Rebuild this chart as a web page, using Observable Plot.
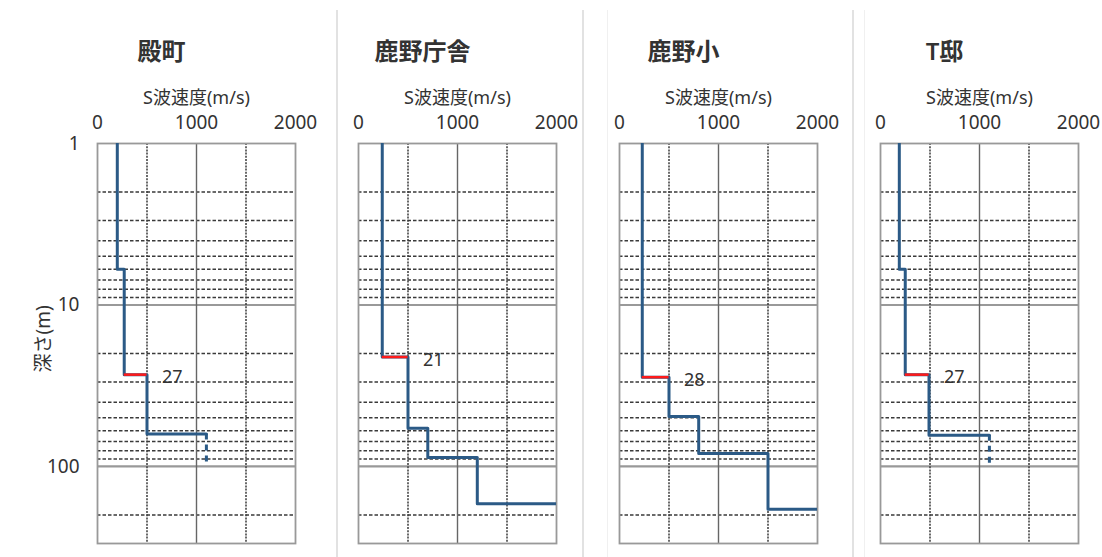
<!DOCTYPE html>
<html>
<head>
<meta charset="utf-8">
<script src="https://cdn.jsdelivr.net/npm/d3@7"></script>
<script src="https://cdn.jsdelivr.net/npm/@observablehq/plot@0.6"></script>
<style>
  body { margin: 0; background: #fff; }
  #wrap { position: relative; width: 1102px; height: 557px; overflow: hidden; }
  #wrap svg { position: absolute; left: 0; top: 0; }
  .sep { position: absolute; top: 10px; bottom: 0; width: 0; border-left: 2px solid #e2e2e2; }
  .sep.faint { border-left: 1px solid #f0f0f0; }
</style>
</head>
<body>
<div id="wrap">
  <div class="sep" style="left:336px"></div>
  <div class="sep" style="left:582px"></div>
  <div class="sep faint" style="left:607px"></div>
  <div class="sep" style="left:852px"></div>
  <div class="sep faint" style="left:864px"></div>
</div>
<script>
// Survey sites
const sites = ["殿町", "鹿野庁舎", "鹿野小", "T邸"];

// Layer top depths (m) and S-wave velocities (m/s) for each site
const tonomachiTop = [1, 6, 27, 63];
const tonomachiVs = [200, 270, 500, 1100];
const shikanoChoshaTop = [1, 21, 58, 88, 170];
const shikanoChoshaVs = [240, 500, 700, 1200, 2000];
const shikanoShoTop = [1, 28, 49, 83, 184];
const shikanoShoVs = [230, 500, 800, 1500, 2000];
const tteiTop = [1, 6, 27, 64];
const tteiVs = [190, 250, 490, 1100];

// Depth to which the deepest layer is assumed to continue (dashed)
const assumedBottom = [100, null, null, 100];

// Depth of the engineering bedrock marked in red on each profile
const bedrockDepth = [27, 21, 28, 27];

// Axes and grid
const velocityTicks = [0, 1000, 2000];
const depthTicks = [1, 10, 100];
const depthDomain = [1, 300];
const velocityDomain = [0, 2000];
const depthGridMinor = [2, 3, 4, 5, 6, 7, 8, 9, 20, 30, 40, 50, 60, 70, 80, 90, 200];
const depthGridMajor = [10, 100];
const velocityGridMinor = [500, 1500];
const velocityGridMajor = [1000];

const profiles = [
  [tonomachiTop, tonomachiVs],
  [shikanoChoshaTop, shikanoChoshaVs],
  [shikanoShoTop, shikanoShoVs],
  [tteiTop, tteiVs]
];

// Step line vertices: each layer is a vertical run, joined by horizontal steps
const stepRows = [];
const redRows = [];
const labelRows = [];
const dashRows = [];
profiles.forEach(([tops, vs], k) => {
  const site = sites[k];
  tops.forEach((t, i) => {
    stepRows.push({site, v: vs[i], d: t});
    if (i + 1 < tops.length) stepRows.push({site, v: vs[i], d: tops[i + 1]});
  });
  const b = tops.indexOf(bedrockDepth[k]);
  redRows.push({site, v1: vs[b - 1], v2: vs[b], d: tops[b]});
  labelRows.push({site, v: vs[b], d: tops[b], text: String(bedrockDepth[k])});
  if (assumedBottom[k] != null) {
    const last = tops.length - 1;
    dashRows.push({site, v: vs[last], d1: tops[last], d2: assumedBottom[k]});
  }
});

const font = "'Noto Sans', 'Noto Sans CJK JP', sans-serif";
const gridDark = "#3a3a3a";
const lineBlue = "#2b5a86";

const chart = Plot.plot({
  width: 1102,
  height: 557,
  marginTop: 143,
  marginBottom: 14,
  marginLeft: 97,
  marginRight: 24,
  style: {fontFamily: font, background: "transparent", color: "#333"},
  fx: {domain: sites, paddingInner: 63 / 261, paddingOuter: 0, axis: null, label: null},
  x: {domain: velocityDomain},
  y: {type: "log", domain: depthDomain, reverse: true},
  marks: [
    // grid
    Plot.ruleY(depthGridMinor, {stroke: gridDark, strokeWidth: 1.5, strokeDasharray: "3.5,2"}),
    Plot.ruleY(depthGridMajor, {stroke: "#999", strokeWidth: 2.2}),
    Plot.ruleX(velocityGridMinor, {stroke: gridDark, strokeWidth: 1.5, strokeDasharray: "2,1.2"}),
    Plot.ruleX(velocityGridMajor, {stroke: "#666", strokeWidth: 1.4}),
    Plot.frame({stroke: "#999", strokeWidth: 1.8}),
    // axes
    Plot.axisX(velocityTicks, {anchor: "top", tickSize: 0, tickPadding: 15, label: null,
      fontSize: 19, color: "#333", tickFormat: d => String(d)}),
    Plot.axisY(depthTicks, {anchor: "left", tickSize: 0, tickPadding: 18, label: null,
      fontSize: 19, color: "#333", tickFormat: d => String(d)}),
    // velocity profiles
    Plot.line(stepRows, {fx: "site", x: "v", y: "d", stroke: lineBlue, strokeWidth: 3, clip: true}),
    Plot.ruleX(dashRows, {fx: "site", x: "v", y1: "d1", y2: "d2", stroke: lineBlue,
      strokeWidth: 3, strokeDasharray: "6,5"}),
    Plot.ruleY(redRows, {fx: "site", x1: "v1", x2: "v2", y: "d", stroke: "#ff1a1a", strokeWidth: 2.5}),
    Plot.text(labelRows, {fx: "site", x: "v", y: "d", text: "text", textAnchor: "start",
      dx: 15, dy: 3, fontSize: 18, fill: "#333"}),
    // titles
    Plot.text(sites, {fx: d => d, text: d => d, frameAnchor: "top", dx: -35, dy: -101,
      fontSize: 24, fontWeight: 600, fill: "#333"}),
    Plot.text(sites, {fx: d => d, text: () => "S波速度(m/s)", frameAnchor: "top", dy: -52,
      fontSize: 18, fill: "#333"}),
    Plot.text([sites[0]], {fx: d => d, text: () => "深さ(m)", frameAnchor: "left",
      dx: -54, dy: 29, rotate: -90, fontSize: 19, fill: "#333"})
  ]
});

document.getElementById("wrap").appendChild(chart);
</script>
</body>
</html>
